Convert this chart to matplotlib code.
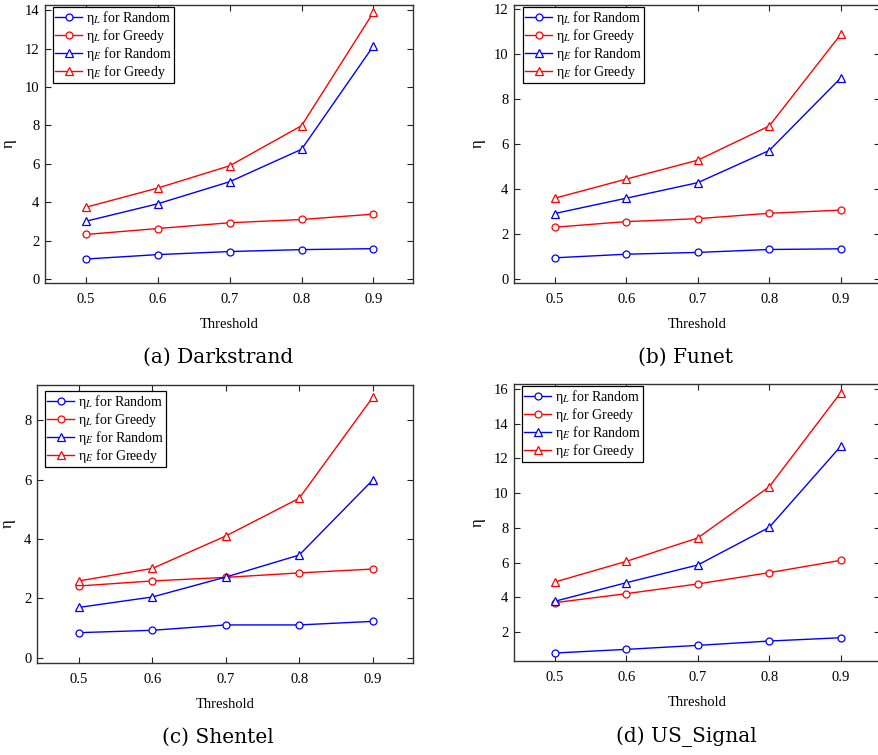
import matplotlib
matplotlib.use("Agg")
import matplotlib.pyplot as plt

plt.rcParams['font.family'] = ['Liberation Serif', 'DejaVu Serif']
plt.rcParams['mathtext.fontset'] = 'stix'

thresholds = [0.5, 0.6, 0.7, 0.8, 0.9]

# Darkstrand
a_l_random = [1.04, 1.27, 1.43, 1.53, 1.58]
a_l_greedy = [2.32, 2.63, 2.93, 3.10, 3.38]
a_e_random = [3.01, 3.92, 5.07, 6.76, 12.15]
a_e_greedy = [3.74, 4.74, 5.90, 7.99, 13.90]

# Funet
b_l_random = [0.94, 1.10, 1.18, 1.31, 1.34]
b_l_greedy = [2.30, 2.55, 2.68, 2.92, 3.06]
b_e_random = [2.91, 3.59, 4.28, 5.71, 8.93]
b_e_greedy = [3.59, 4.44, 5.28, 6.80, 10.87]

# Shentel
c_l_random = [0.85, 0.93, 1.11, 1.11, 1.23]
c_l_greedy = [2.42, 2.59, 2.71, 2.86, 2.99]
c_e_random = [1.70, 2.05, 2.72, 3.46, 5.98]
c_e_greedy = [2.59, 3.01, 4.10, 5.37, 8.76]

# US_Signal
d_l_random = [0.79, 1.00, 1.23, 1.48, 1.67]
d_l_greedy = [3.69, 4.21, 4.77, 5.42, 6.13]
d_e_random = [3.77, 4.84, 5.86, 8.03, 12.70]
d_e_greedy = [4.88, 6.07, 7.42, 10.37, 15.79]

captions = ['(a) Darkstrand', '(b) Funet', '(c) Shentel', '(d) US_Signal']
labels = ['η$_{L}$ for Random', 'η$_{L}$ for Greedy',
          'η$_{E}$ for Random', 'η$_{E}$ for Greedy']

W, H = 879, 755
fig = plt.figure(figsize=(W / 100, H / 100), dpi=100)

# pixel boxes: left, right, top, bottom
panels = [
    dict(box=(45, 413, 5, 283), data=(a_l_random, a_l_greedy, a_e_random, a_e_greedy),
         ylim=(-0.21, 14.28), yticks=range(0, 15, 2), leg=(8, 2)),
    dict(box=(514, 880, 5, 283), data=(b_l_random, b_l_greedy, b_e_random, b_e_greedy),
         ylim=(-0.18, 12.18), yticks=range(0, 13, 2), leg=(9, 2)),
    dict(box=(37, 413, 385, 663), data=(c_l_random, c_l_greedy, c_e_random, c_e_greedy),
         ylim=(-0.17, 9.18), yticks=range(0, 9, 2), leg=(8, 6)),
    dict(box=(514, 880, 384, 661), data=(d_l_random, d_l_greedy, d_e_random, d_e_greedy),
         ylim=(0.33, 16.29), yticks=range(2, 17, 2), leg=(8, 2)),
]

styles = [('blue', 'o', 5), ('red', 'o', 5), ('blue', '^', 5.8), ('red', '^', 5.8)]

for i, p in enumerate(panels):
    l, r, t, b = p['box']
    ax = fig.add_axes([l / W, 1 - b / H, (r - l) / W, (b - t) / H])
    for ys, (c, m, ms), lab in zip(p['data'], styles, labels):
        ax.plot(thresholds, ys, color=c, marker=m, markersize=ms,
                markerfacecolor='white', markeredgecolor=c, markeredgewidth=0.9,
                linewidth=1.0, label=lab)
    ax.set_xlim(0.443, 0.955)
    ax.set_ylim(*p['ylim'])
    ax.set_xticks(thresholds)
    ax.set_xticklabels(['0.5', '0.6', '0.7', '0.8', '0.9'])
    ax.set_yticks(list(p['yticks']))
    ax.tick_params(direction='in', length=4, width=0.8, top=True, right=True,
                   labelsize=10.5, colors='#222222', labelcolor='black')
    ax.tick_params(axis='x', pad=7)
    ax.tick_params(axis='y', pad=4)
    for s in ax.spines.values():
        s.set_linewidth(1.0)
        s.set_color('#333333')
    ax.set_xlabel('Threshold', fontsize=10.5, labelpad=9)
    ax.set_ylabel('η', fontsize=12, labelpad=6)
    lx, ly = p['leg']
    ax.legend(loc='upper left', bbox_to_anchor=(lx / (r - l), 1 - ly / (b - t)),
              borderaxespad=0, fontsize=10, frameon=True, fancybox=False,
              edgecolor='black', framealpha=1, handlelength=1.95,
              handletextpad=0.3, labelspacing=0.0, borderpad=0.15)
    ax.get_legend().get_frame().set_linewidth(0.9)
    cx = 218 if i % 2 == 0 else 686
    cy = 357 if i < 2 else 737
    fig.text(cx / W, 1 - cy / H, captions[i], ha='center', va='center',
             fontsize=14.5, family='DejaVu Serif')

fig.savefig('out.png', dpi=100)
